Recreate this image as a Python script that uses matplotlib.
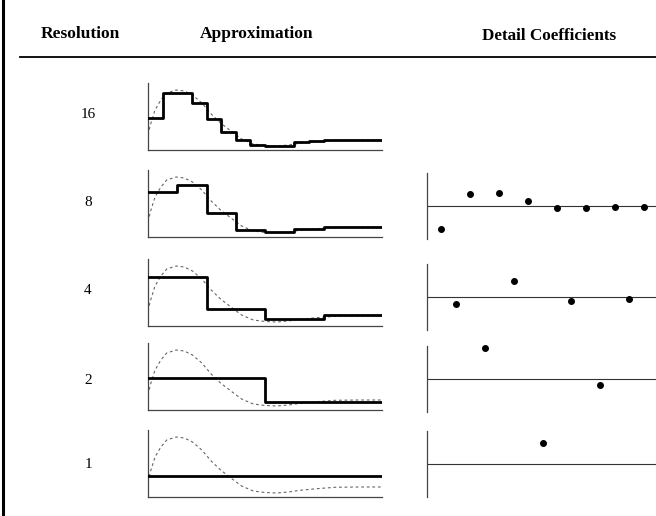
import matplotlib
matplotlib.use("Agg")
import matplotlib.pyplot as plt
from matplotlib.lines import Line2D

# ---------------- data (arbitrary units) ----------------
resolutions = [16, 8, 4, 2, 1]

approx_16 = [32.3, 57.3, 57.3, 46.7, 31.0, 18.3, 10.0, 5.0, 4.0, 4.0, 8.3, 9.3, 10.0, 10.0, 10.0, 10.0]
approx_8 = [45.0, 51.7, 24.0, 7.4, 5.0, 8.4, 10.4, 10.4]
approx_4 = [49.3, 17.0, 7.0, 11.0]
approx_2 = [32.3, 8.3]
approx_1 = [21.0]

detail_8 = [-23.6, 11.7, 13.0, 4.7, -2.0, -2.6, -1.6, -1.0]
detail_4 = [-6.7, 16.7, -3.7, -1.7]
detail_2 = [31.0, -5.7]
detail_1 = [21.6]

curve_x = [0.0, 0.01, 0.03, 0.055, 0.08, 0.12, 0.155, 0.19, 0.23, 0.27, 0.31, 0.36,
           0.40, 0.45, 0.50, 0.55, 0.60, 0.65, 0.72, 0.80, 0.90, 1.0]
curve_y = [15, 25, 40, 50, 57, 60, 59, 55, 47, 36, 27, 18,
           11, 6, 4.5, 4, 5, 6.7, 8.3, 9.7, 10, 10]

approx_all = [approx_16, approx_8, approx_4, approx_2, approx_1]
detail_all = [None, detail_8, detail_4, detail_2, detail_1]

headers = ["Resolution", "Approximation", "Detail Coefficients"]

# ---------------- layout (pixels) ----------------
W, H = 656, 516
fig = plt.figure(figsize=(W / 100, H / 100), dpi=100)
fig.patch.set_facecolor("white")

def px_axes(x0, y_top, w, h):
    return fig.add_axes([x0 / W, 1 - (y_top + h) / H, w / W, h / H])

serif = ["Liberation Serif", "DejaVu Serif"]

# frame decorations
fig.add_artist(Line2D([3 / W, 3 / W], [0, 1], color="black", lw=2.2))
fig.add_artist(Line2D([20 / W, 1], [1 - 57 / H, 1 - 57 / H], color="black", lw=1.3))

fig.text(80 / W, 1 - 34 / H, headers[0], ha="center", va="center",
         fontsize=12.5, fontweight="bold", family=serif)
fig.text(257 / W, 1 - 34 / H, headers[1], ha="center", va="center",
         fontsize=12.5, fontweight="bold", family=serif)
fig.text(549 / W, 1 - 36 / H, headers[2], ha="center", va="center",
         fontsize=12.3, fontweight="bold", family=serif)

approx_tops = [83, 170, 259, 343, 430]
approx_h = 67
label_y = [115, 203, 291, 380, 465]
detail_zero = [None, 205.7, 297.3, 379.3, 464.3]
detail_half = 33

for i, res in enumerate(resolutions):
    fig.text(88 / W, 1 - label_y[i] / H, str(res), ha="center", va="center",
             fontsize=11, family=serif)

    # approximation panel
    ax = px_axes(148, approx_tops[i], 234, approx_h)
    vals = approx_all[i]
    n = len(vals)
    xs = [k / n for k in range(n + 1)]
    ys = vals + [vals[-1]]
    ax.step(xs, ys, where="post", color="black", lw=2.0, zorder=3)
    ax.plot(curve_x, curve_y, color="#666666", lw=0.8, ls=(0, (2.5, 2.5)), zorder=2)
    ax.set_xlim(0, 1)
    ax.set_ylim(0, approx_h)
    ax.set_xticks([])
    ax.set_yticks([])
    for s in ["top", "right"]:
        ax.spines[s].set_visible(False)
    for s in ["left", "bottom"]:
        ax.spines[s].set_color("#444444")
        ax.spines[s].set_linewidth(0.9)
    ax.patch.set_alpha(0)

    # detail panel
    d = detail_all[i]
    if d is not None:
        zc = detail_zero[i]
        dx = px_axes(427, zc - detail_half, 231, 2 * detail_half)
        m = len(d)
        dx.axhline(0, color="#333333", lw=0.8)
        dx.scatter([k + 0.5 for k in range(m)], d, s=16, color="black",
                   zorder=3, clip_on=False)
        dx.set_xlim(0, m)
        dx.set_ylim(-detail_half, detail_half)
        dx.set_xticks([])
        dx.set_yticks([])
        for s in ["top", "right", "bottom"]:
            dx.spines[s].set_visible(False)
        dx.spines["left"].set_color("#444444")
        dx.spines["left"].set_linewidth(0.9)
        dx.patch.set_alpha(0)

fig.savefig("out.png", dpi=100, facecolor="white")
